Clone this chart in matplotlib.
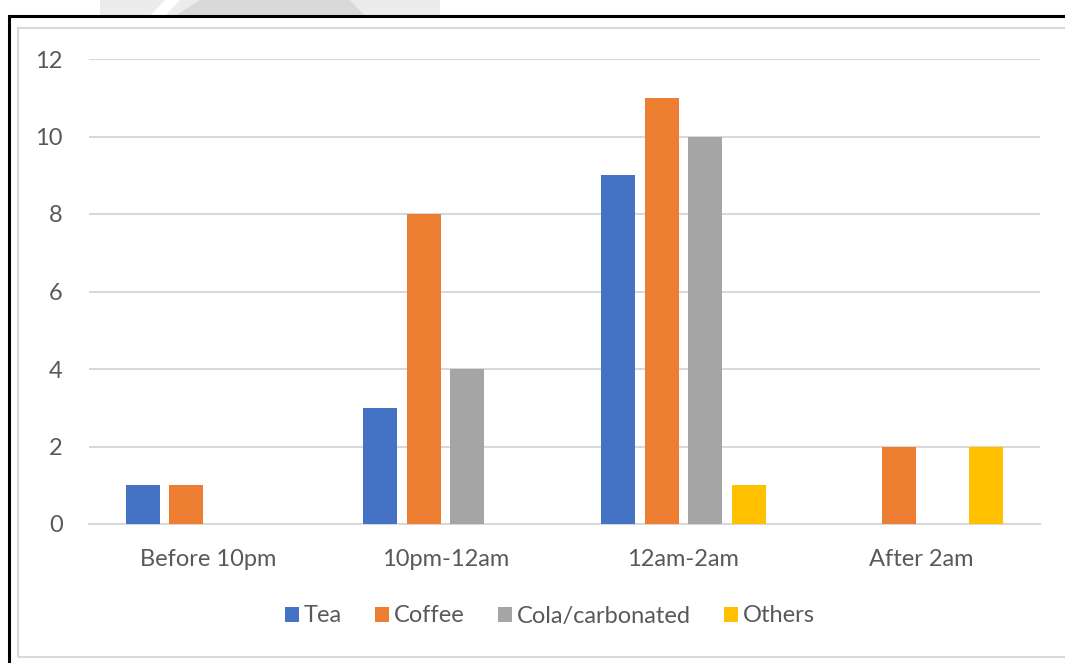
import matplotlib.pyplot as plt
import numpy as np
from matplotlib.patches import Rectangle, Polygon

categories = ["Before 10pm", "10pm-12am", "12am-2am", "After 2am"]
series_names = ["Tea", "Coffee", "Cola/carbonated", "Others"]
tea = [1, 3, 9, 0]
coffee = [1, 8, 11, 2]
cola = [0, 4, 10, 0]
others = [0, 0, 1, 2]
colors = ["#4472C4", "#ED7D31", "#A5A5A5", "#FFC000"]
yticks = [0, 2, 4, 6, 8, 10, 12]

plt.rcParams['font.family'] = ['Lato', 'DejaVu Sans']

fig = plt.figure(figsize=(10.65, 6.63), dpi=100)
W, H = 1065, 663

def fx(px):
    return px / W

def fy(py):
    return 1 - py / H

# faint watermark shapes at the top
fig.patches.append(Polygon([(fx(100), fy(0)), (fx(440), fy(0)), (fx(440), fy(16)), (fx(100), fy(16))],
                           closed=True, transform=fig.transFigure, facecolor="#ececec", edgecolor="none", zorder=-3))
fig.patches.append(Polygon([(fx(150), fy(16)), (fx(165), fy(0)), (fx(180), fy(0)), (fx(165), fy(16))],
                           closed=True, transform=fig.transFigure, facecolor="white", edgecolor="none", zorder=-3))
fig.patches.append(Polygon([(fx(175), fy(16)), (fx(200), fy(0)), (fx(350), fy(0)), (fx(365), fy(16))],
                           closed=True, transform=fig.transFigure, facecolor="#d9d9d9", edgecolor="none", zorder=-3))
fig.patches.append(Polygon([(fx(370), fy(16)), (fx(375), fy(0)), (fx(435), fy(0)), (fx(435), fy(16))],
                           closed=True, transform=fig.transFigure, facecolor="#ececec", edgecolor="none", zorder=-3))

# outer black border and inner grey chart border
fig.patches.append(Rectangle((fx(9), fy(700)), fx(1100), fy(16) - fy(700), transform=fig.transFigure,
                             facecolor="white", edgecolor="black", linewidth=2.2, zorder=-2))
fig.patches.append(Rectangle((fx(18), fy(657)), fx(1100), fy(28) - fy(657), transform=fig.transFigure,
                             facecolor="none", edgecolor="#d9d9d9", linewidth=1.5, zorder=-1))

ax = fig.add_axes([fx(89), fy(524), fx(1040) - fx(89), fy(59) - fy(524)])
ax.set_facecolor("none")
ax.set_zorder(5)

x = np.arange(len(categories))
pitch = 0.183
width = 0.143
all_series = [tea, coffee, cola, others]
for i, (vals, name, c) in enumerate(zip(all_series, series_names, colors)):
    ax.bar(x + (i - 1.5) * pitch, vals, width=width, color=c, label=name, zorder=3)

ax.set_xlim(-0.5, 3.5)
ax.set_ylim(0, 12)
ax.set_yticks(yticks)
ax.set_yticklabels([str(v) for v in yticks])
ax.set_xticks(x)
ax.set_xticklabels(categories)
ax.yaxis.grid(True, color="#d9d9d9", linewidth=1.5, zorder=0)
ax.set_axisbelow(True)
for s in ["top", "right", "left"]:
    ax.spines[s].set_visible(False)
ax.spines["bottom"].set_color("#d9d9d9")
ax.spines["bottom"].set_linewidth(1.5)
ax.tick_params(axis="both", length=0, colors="#595959", labelsize=17)
ax.tick_params(axis="y", pad=19)
ax.tick_params(axis="x", pad=18)

leg = fig.legend(loc="center", bbox_to_anchor=(fx(550), fy(616)), ncol=4, frameon=False,
                 fontsize=17, handlelength=0.6, handleheight=0.6, handletextpad=0.2,
                 columnspacing=1.4, labelcolor="#595959")
leg.set_zorder(6)

fig.savefig("out.png", dpi=100)
